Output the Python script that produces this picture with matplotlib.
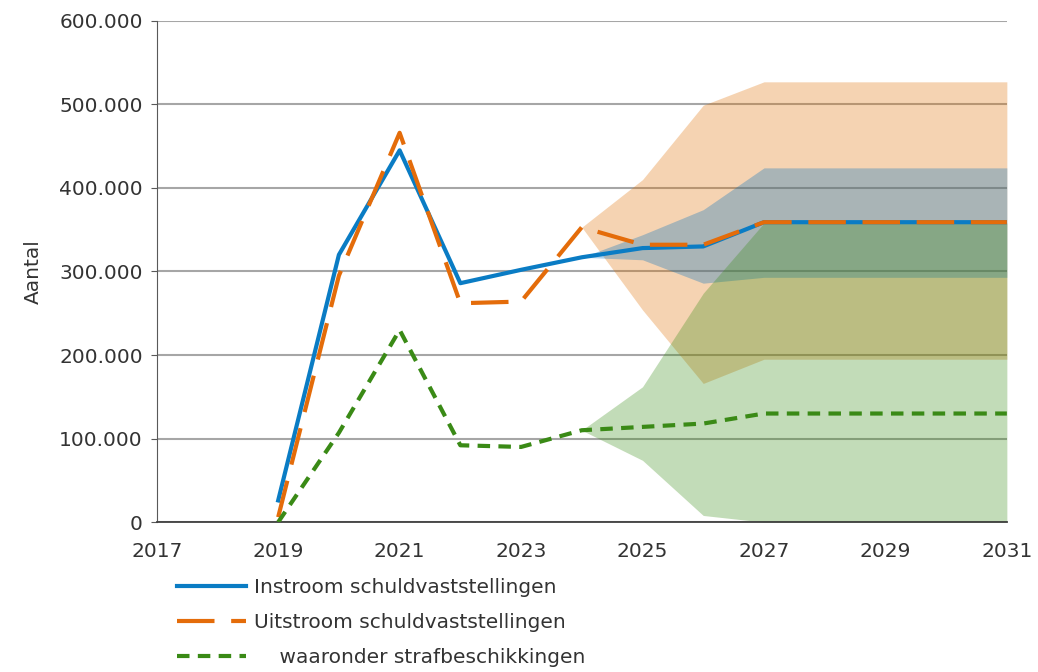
import matplotlib.pyplot as plt
from matplotlib.ticker import FuncFormatter

# Data
jaren = [2019, 2020, 2021, 2022, 2023, 2024, 2025, 2026, 2027, 2028, 2029, 2030, 2031]
instroom = [26000, 320000, 445000, 286000, 302000, 317000, 328000, 330000, 359000, 359000, 359000, 359000, 359000]
uitstroom = [6000, 295000, 466000, 262000, 264000, 353000, 332000, 332000, 359000, 359000, 359000, 359000, 359000]
straf = [0, 107000, 230000, 92000, 90000, 110000, 114000, 118000, 130000, 130000, 130000, 130000, 130000]

# forecast bands (from 2024 on)
band_jaren = [2024, 2025, 2026, 2027, 2028, 2029, 2030, 2031]
uit_hoog = [353000, 410000, 499000, 527000, 527000, 527000, 527000, 527000]
uit_laag = [353000, 254000, 166000, 195000, 195000, 195000, 195000, 195000]
in_hoog = [317000, 344000, 374000, 424000, 424000, 424000, 424000, 424000]
in_laag = [317000, 314000, 286000, 293000, 293000, 293000, 293000, 293000]
straf_hoog = [110000, 162000, 274000, 358000, 358000, 358000, 358000, 358000]
straf_laag = [110000, 74000, 8000, 0, 0, 0, 0, 0]

labels = ["Instroom schuldvaststellingen", "Uitstroom schuldvaststellingen",
          "    waaronder strafbeschikkingen"]

blauw = "#0A7CC4"
oranje = "#E46C0A"
groen = "#3A8A16"
tekst = "#333333"
fs = 14.5

plt.rcParams['font.family'] = ['DejaVu Sans']
fig = plt.figure(figsize=(10.38, 6.72), dpi=100)
ax = fig.add_axes([0.151, 0.223, 0.819, 0.746])

ax.fill_between(band_jaren, uit_laag, uit_hoog, color="#E07000", alpha=0.3, lw=0, zorder=1)
ax.fill_between(band_jaren, in_laag, in_hoog, color="#0070C0", alpha=0.31, lw=0, zorder=1)
ax.fill_between(band_jaren, straf_laag, straf_hoog, color="#388C14", alpha=0.3, lw=0, zorder=1)

ax.plot(jaren, instroom, color=blauw, lw=3, label=labels[0], zorder=3)
ax.plot(jaren, uitstroom, color=oranje, lw=3, dashes=(9, 4), label=labels[1], zorder=4)
ax.plot(jaren, straf, color=groen, lw=3, dashes=(3, 2), label=labels[2], zorder=4)

ax.set_xlim(2017, 2031)
ax.set_ylim(0, 600000)
ax.set_xticks(range(2017, 2032, 2))
ax.set_yticks(range(0, 600001, 100000))
ax.yaxis.set_major_formatter(FuncFormatter(lambda v, p: f"{int(v):,}".replace(",", ".")))
ax.grid(axis='y', color='#a6a6a6', lw=1.5, zorder=0)
ax.set_axisbelow(True)
for s in ['top', 'right']:
    ax.spines[s].set_visible(False)
ax.spines['left'].set_color('#595959')
ax.spines['bottom'].set_color('#404040')
ax.spines['bottom'].set_linewidth(1.3)
ax.tick_params(axis='y', length=4, color='#595959', labelsize=fs, labelcolor=tekst, pad=6)
ax.tick_params(axis='x', length=0, labelsize=fs, labelcolor=tekst, pad=14)
ax.set_ylabel("Aantal", fontsize=fs, color=tekst, labelpad=12)

fig.legend(loc='upper left', bbox_to_anchor=(0.163, 0.152), frameon=False, fontsize=fs,
           handlelength=3.4, handletextpad=0.4, labelspacing=0.8, borderaxespad=0,
           labelcolor=tekst)

fig.savefig("out.png", dpi=100)
